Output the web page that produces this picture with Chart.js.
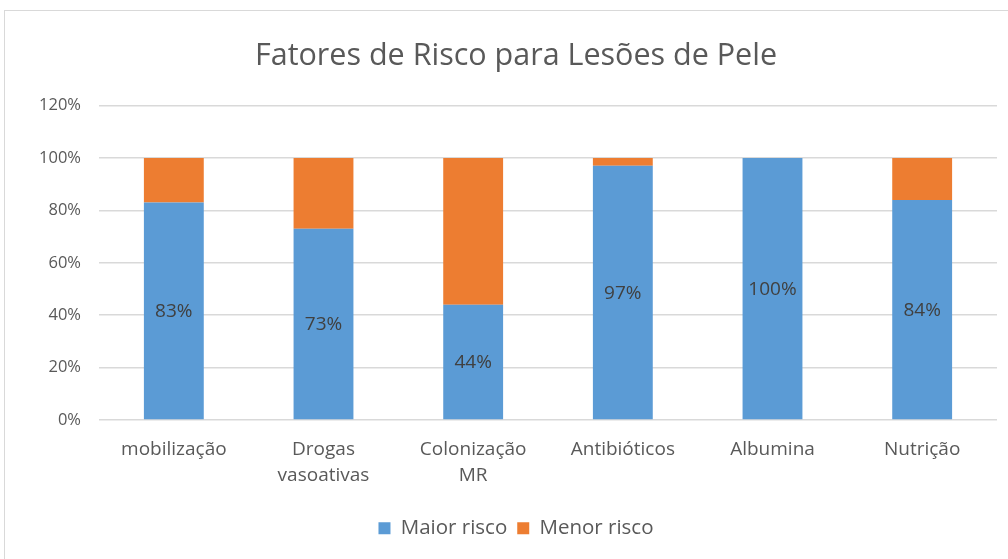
<!DOCTYPE html>
<html>
<head>
<meta charset="utf-8">
<script src="https://cdn.jsdelivr.net/npm/chart.js@4"></script>
<style>
    html, body { margin: 0; padding: 0; background: #fff; overflow: hidden; }
    #frame {
        position: absolute; left: 4px; top: 10px;
        width: 1022px; height: 560px;
        border-left: 1px solid #d9d9d9; border-top: 1px solid #d9d9d9;
    }
    #chartBox { position: absolute; left: 0; top: 0; width: 1022px; height: 548px; }
</style>
</head>
<body>
<div id="frame"><div id="chartBox"><canvas id="riskChart"></canvas></div></div>
<script>
// --- Data ---
const categories = ['mobilização', ['Drogas', 'vasoativas'], ['Colonização', 'MR'], 'Antibióticos', 'Albumina', 'Nutrição'];
const maiorRisco = [83, 73, 44, 97, 100, 84];
const menorRisco = [17, 27, 56, 3, 0, 16];
const yTicks = [0, 20, 40, 60, 80, 100, 120];

const fontFamily = "'Open Sans', 'Noto Sans', sans-serif";
const textColor = '#595959';

// --- Labels inside the blue bars ---
const barLabels = {
    id: 'barLabels',
    afterDatasetsDraw(chart) {
        const ctx = chart.ctx;
        const meta = chart.getDatasetMeta(0);
        ctx.save();
        ctx.font = '19px ' + fontFamily;
        ctx.fillStyle = '#404040';
        ctx.textAlign = 'center';
        ctx.textBaseline = 'middle';
        meta.data.forEach(function(bar, i) {
            const y = (bar.y + bar.base) / 2;
            ctx.fillText(maiorRisco[i] + '%', bar.x, y + 1);
        });
        ctx.restore();
    }
};

const ctx = document.getElementById('riskChart').getContext('2d');
const riskChart = new Chart(ctx, {
    type: 'bar',
    data: {
        labels: categories,
        datasets: [{
            label: 'Maior risco',
            data: maiorRisco,
            backgroundColor: '#5B9BD5',
            categoryPercentage: 1,
            barPercentage: 0.4
        }, {
            label: 'Menor risco',
            data: menorRisco,
            backgroundColor: '#ED7D31',
            categoryPercentage: 1,
            barPercentage: 0.4
        }]
    },
    options: {
        responsive: true,
        maintainAspectRatio: false,
        animation: false,
        layout: { padding: { left: 0, right: 0, top: 0, bottom: 10.5 } },
        plugins: {
            title: {
                display: true,
                text: 'Fatores de Risco para Lesões de Pele',
                color: textColor,
                font: { family: fontFamily, size: 30.5, weight: 'normal' },
                padding: { top: 27, bottom: 31 }
            },
            legend: {
                position: 'bottom',
                labels: {
                    color: textColor,
                    font: { family: fontFamily, size: 20.5 },
                    boxWidth: 12,
                    boxHeight: 12,
                    padding: 10
                }
            },
            tooltip: { enabled: false }
        },
        scales: {
            x: {
                stacked: true,
                grid: { display: false, drawTicks: false },
                border: { display: false },
                ticks: {
                    color: textColor,
                    font: { family: fontFamily, size: 19, lineHeight: 1.37 },
                    padding: 17,
                    maxRotation: 0
                },
                afterFit: function(scale) { scale.height = 88; }
            },
            y: {
                stacked: true,
                min: 0,
                max: 120,
                afterBuildTicks: function(scale) {
                    scale.ticks = yTicks.map(v => ({ value: v }));
                },
                grid: { color: '#d9d9d9', lineWidth: 1.5, drawTicks: false },
                border: { display: false },
                ticks: {
                    color: textColor,
                    font: { family: fontFamily, size: 16.5 },
                    padding: 18,
                    callback: function(value) { return value + '%'; }
                },
                afterFit: function(scale) { scale.width = 94; }
            },
            // empty spacer on the right so the title stays centred on the whole frame
            yRight: {
                type: 'linear',
                position: 'right',
                grid: { display: false, drawTicks: false },
                border: { display: false },
                ticks: { display: false },
                afterFit: function(scale) { scale.width = 30; }
            }
        }
    },
    plugins: [barLabels]
});
</script>
</body>
</html>
